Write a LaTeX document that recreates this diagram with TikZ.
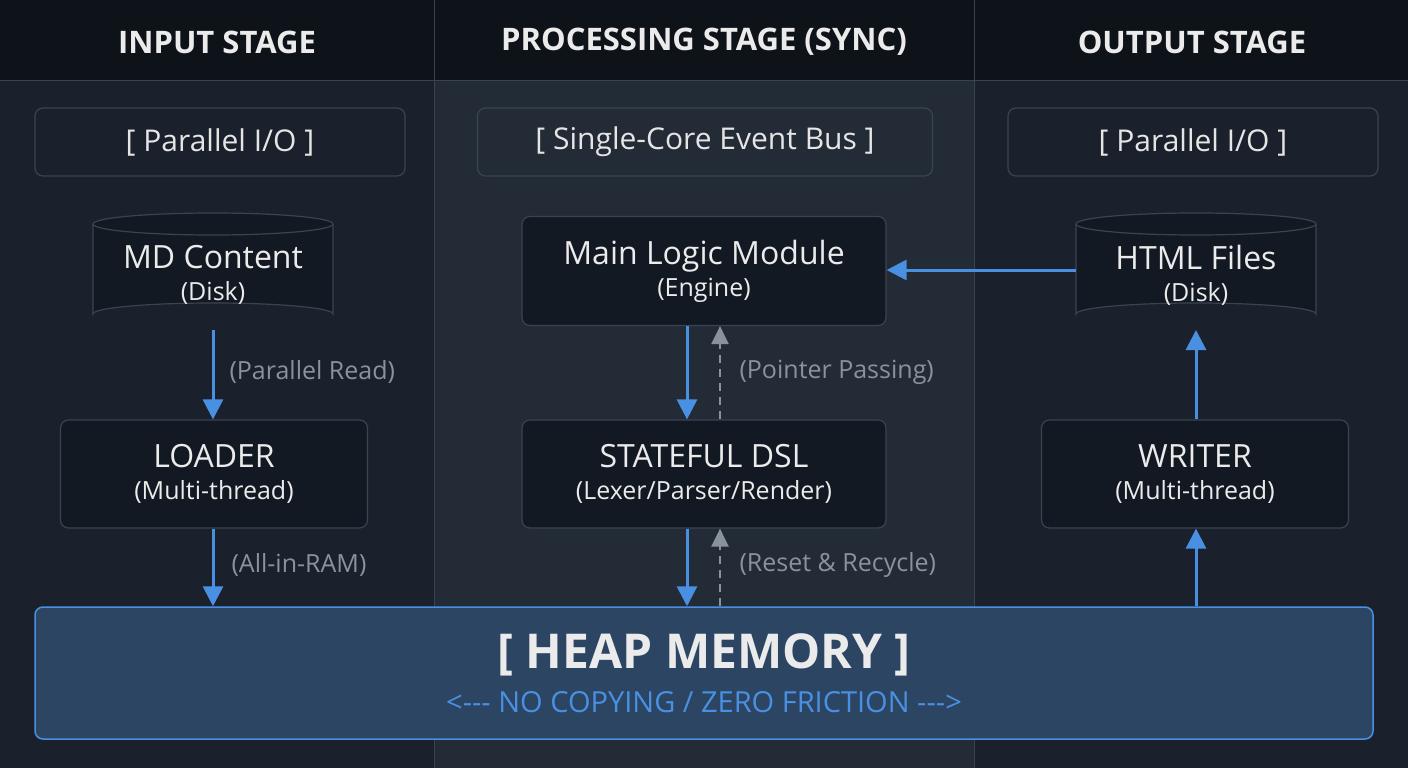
\documentclass[tikz,border=0pt]{standalone}
\usepackage{fontspec}
\setmainfont{Open Sans}
\usetikzlibrary{arrows.meta}
\definecolor{bg}{HTML}{1A212C}
\definecolor{bgmid}{HTML}{232B37}
\definecolor{hdr}{HTML}{0E1319}
\definecolor{boxf}{HTML}{131922}
\definecolor{boxd}{HTML}{3A4350}
\definecolor{blu}{HTML}{4A90E2}
\definecolor{gry}{HTML}{8A929C}
\definecolor{heap}{HTML}{2B4563}
\tikzset{
 hd/.style={text=white!92!black,font=\bfseries\fontsize{31}{36}\selectfont},
 tag/.style={draw=boxd,line width=1.2pt,rounded corners=8pt,text=white!90!black,font=\fontsize{30}{34}\selectfont},
 box/.style={draw=boxd,fill=boxf,line width=1.2pt,rounded corners=8pt,text=white!92!black,align=center,font=\fontsize{32}{36}\selectfont},
 cyl/.style={text=white!92!black,align=center,font=\fontsize{32}{36}\selectfont},
 lbl/.style={text=gry,font=\fontsize{25}{30}\selectfont,anchor=west},
 arr/.style={blu,line width=3pt,-{Triangle[length=20pt,width=20pt]}},
 darr/.style={gry,line width=2.5pt,dashed,dash pattern=on 8pt off 6pt,-{Triangle[length=18pt,width=17pt]}},
}
\newcommand{\sub}[1]{\\[-4pt]{\fontsize{25}{30}\selectfont #1}}
\begin{document}
\begin{tikzpicture}[x=1pt,y=-1pt]
\useasboundingbox (0,0) rectangle (1408,768);
\fill[bg] (0,0) rectangle (1408,768);
\fill[bgmid] (434,0) rectangle (974,768);
\fill[hdr] (0,0) rectangle (1408,80);
\draw[boxd,line width=1pt] (0,80) -- (1408,80) (434,0) -- (434,768) (974,0) -- (974,768);
\node[hd] (h1) at (217,42) {INPUT STAGE};
\node[hd] (h2) at (704,42) {PROCESSING STAGE (SYNC)};
\node[hd] (h3) at (1192,42) {OUTPUT STAGE};
\node[tag,minimum width=370pt,minimum height=68pt] (t1) at (220,142) {[ Parallel I/O ]};
\node[tag,minimum width=455pt,minimum height=68pt] (t2) at (705,142) {[ Single-Core Event Bus ]};
\node[tag,minimum width=370pt,minimum height=68pt] (t3) at (1193,142) {[ Parallel I/O ]};
% cylinders
\foreach \cx/\nm/\ttl in {213/md/MD Content,1196/html/HTML Files}{
 \fill[boxf] (\cx-120,224) -- (\cx-120,314) arc[start angle=180,end angle=360,x radius=120,y radius=11] -- (\cx+120,224) -- cycle;
 \draw[boxd,line width=1.2pt] (\cx-120,224) -- (\cx-120,314) arc[start angle=180,end angle=360,x radius=120,y radius=11] -- (\cx+120,224);
 \draw[boxd,line width=1.2pt,fill=boxf] (\cx,224) ellipse[x radius=120,y radius=11];
 \node[cyl,minimum width=240pt,minimum height=112pt] (\nm) at (\cx,275) {\ttl\sub{(Disk)}};
}
\node[box,minimum width=364pt,minimum height=109pt] (main) at (704,271) {Main Logic Module\sub{(Engine)}};
\node[box,minimum width=307pt,minimum height=108pt] (loader) at (214,474) {LOADER\sub{(Multi-thread)}};
\node[box,minimum width=364pt,minimum height=108pt] (dsl) at (704,474) {STATEFUL DSL\sub{(Lexer/Parser/Render)}};
\node[box,minimum width=307pt,minimum height=108pt] (writer) at (1195,474) {WRITER\sub{(Multi-thread)}};
\node[draw=blu,fill=heap,line width=1.5pt,rounded corners=8pt,minimum width=1338pt,minimum height=132pt,align=center] (heap) at (704,673)
 {\textcolor{white!92!black}{\bfseries\fontsize{48}{54}\selectfont [ HEAP MEMORY ]}\\[14pt]\textcolor{blu}{\fontsize{29}{34}\selectfont <-{}-{}- NO COPYING / ZERO FRICTION -{}-{}->}};
% arrows
\draw[arr] (213,330) -- (loader.north -| 213,0);
\draw[arr] (loader.south -| 213,0) -- (heap.north -| 213,0);
\draw[arr] (main.south -| 687,0) -- (dsl.north -| 687,0);
\draw[darr] (dsl.north -| 720,0) -- (main.south -| 720,0);
\draw[arr] (dsl.south -| 687,0) -- (heap.north -| 687,0);
\draw[darr] (heap.north -| 720,0) -- (dsl.south -| 720,0);
\draw[arr] (heap.north -| 1196,0) -- (writer.south -| 1196,0);
\draw[arr] (writer.north -| 1196,0) -- (1196,330);
\draw[arr] (html.west |- 0,270) -- (main.east |- 0,270);
\node[lbl] (l1) at (226,372) {(Parallel Read)};
\node[lbl] (l2) at (228,565) {(All-in-RAM)};
\node[lbl] (l3) at (736,372) {(Pointer Passing)};
\node[lbl] (l4) at (736,565) {(Reset \& Recycle)};
\end{tikzpicture}
\end{document}
